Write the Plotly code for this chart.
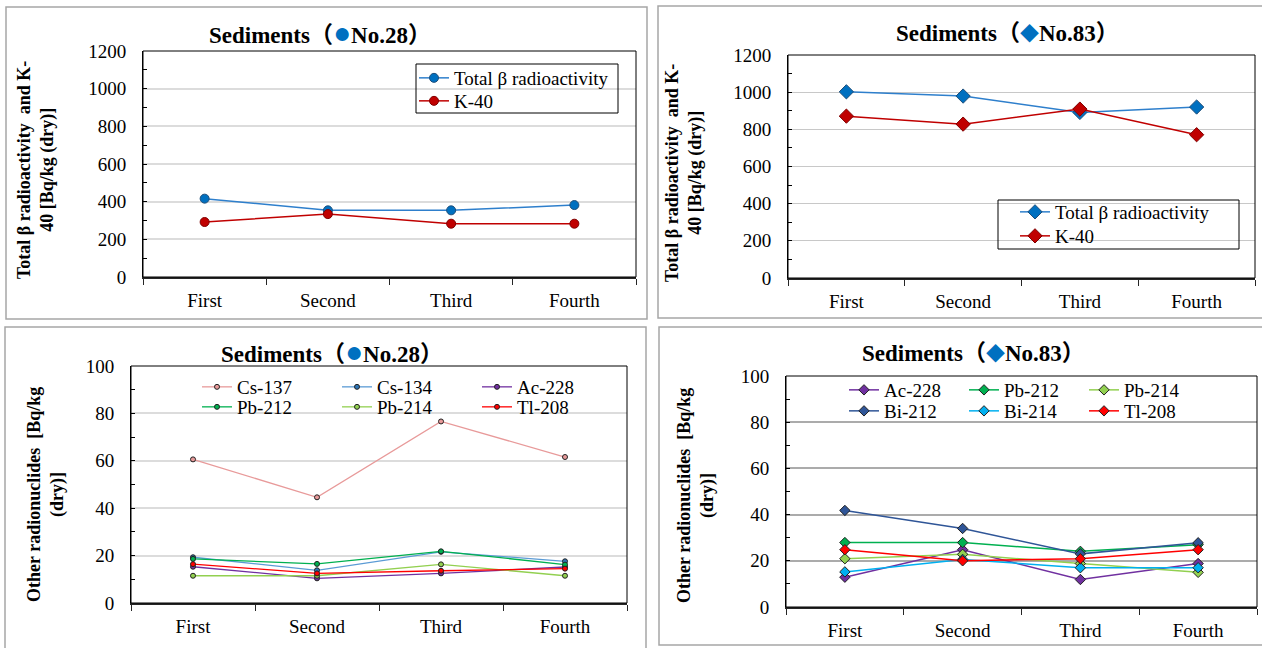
import plotly.graph_objects as go

W, H = 1262, 648

categories = ["First", "Second", "Third", "Fourth"]

# Top-left: No.28 (Bq/kg dry)
no28_total_beta = [416, 354, 354, 382]
no28_k40 = [292, 334, 283, 283]

# Top-right: No.83
no83_total_beta = [1002, 979, 891, 920]
no83_k40 = [871, 828, 909, 771]

# Bottom-left: No.28 other radionuclides
no28_names = ["Cs-137", "Cs-134", "Ac-228", "Pb-212", "Pb-214", "Tl-208"]
no28_cs137 = [60.6, 44.6, 76.6, 61.6]
no28_cs134 = [19.3, 13.8, 21.6, 17.6]
no28_ac228 = [15.3, 10.4, 12.5, 15.2]
no28_pb212 = [18.6, 16.5, 21.8, 16.2]
no28_pb214 = [11.5, 11.5, 16.3, 11.5]
no28_tl208 = [16.4, 12.5, 13.6, 14.5]

# Bottom-right: No.83 other radionuclides
no83_names = ["Ac-228", "Pb-212", "Pb-214", "Bi-212", "Bi-214", "Tl-208"]
no83_ac228 = [12.9, 24.8, 11.9, 18.8]
no83_pb212 = [27.9, 27.9, 24.1, 27.0]
no83_pb214 = [20.9, 22.8, 18.8, 15.0]
no83_bi212 = [41.8, 34.0, 23.0, 27.8]
no83_bi214 = [15.2, 20.6, 17.0, 17.0]
no83_tl208 = [24.8, 20.0, 20.9, 24.8]

SERIF = "Liberation Serif, Times New Roman, serif"
TITLE_FONT = "Liberation Serif, Noto Sans CJK JP, serif"

fig = go.Figure()

# ---------- top-left ----------
fig.add_trace(go.Scatter(x=categories, y=no28_total_beta, name="Total β radioactivity",
                         mode="lines+markers", xaxis="x", yaxis="y", legend="legend",
                         showlegend=True,
                         line=dict(color="#2E7FCC", width=1.5),
                         marker=dict(symbol="circle", size=9, color="#0070C0",
                                     line=dict(color="#1F4E79", width=1))))
fig.add_trace(go.Scatter(x=categories, y=no28_k40, name="K-40",
                         mode="lines+markers", xaxis="x", yaxis="y", legend="legend7",
                         line=dict(color="#C00000", width=1.5),
                         marker=dict(symbol="circle", size=9, color="#C00000",
                                     line=dict(color="#7F0000", width=1))))

# ---------- top-right ----------
fig.add_trace(go.Scatter(x=categories, y=no83_total_beta, name="Total β radioactivity",
                         mode="lines+markers", xaxis="x2", yaxis="y2", legend="legend2",
                         line=dict(color="#2E7FCC", width=1.5),
                         marker=dict(symbol="diamond", size=11, color="#0070C0",
                                     line=dict(color="#1F4E79", width=1))))
fig.add_trace(go.Scatter(x=categories, y=no83_k40, name="K-40",
                         mode="lines+markers", xaxis="x2", yaxis="y2", legend="legend8",
                         line=dict(color="#C00000", width=1.5),
                         marker=dict(symbol="diamond", size=11, color="#C00000",
                                     line=dict(color="#7F0000", width=1))))

# ---------- bottom-left ----------
bl_series = [no28_cs137, no28_cs134, no28_ac228, no28_pb212, no28_pb214, no28_tl208]
bl_colors = ["#E89A9A", "#5B9BD5", "#7030A0", "#00B050", "#92D050", "#FF0000"]
bl_fill = ["#E89A9A", "#2E75B6", "#7030A0", "#00B050", "#92D050", "#FF0000"]
for i, (nm, vals) in enumerate(zip(no28_names, bl_series)):
    fig.add_trace(go.Scatter(x=categories, y=vals, name=nm, mode="lines+markers",
                             xaxis="x3", yaxis="y3",
                             legend="legend3" if i < 3 else "legend4",
                             line=dict(color=bl_colors[i], width=1.3),
                             marker=dict(symbol="circle", size=5, color=bl_fill[i],
                                         line=dict(color="#222222", width=1))))

# ---------- bottom-right ----------
br_series = [no83_ac228, no83_pb212, no83_pb214, no83_bi212, no83_bi214, no83_tl208]
br_colors = ["#7030A0", "#00B050", "#92D050", "#2F5597", "#00B0F0", "#FF0000"]
for i, (nm, vals) in enumerate(zip(no83_names, br_series)):
    fig.add_trace(go.Scatter(x=categories, y=vals, name=nm, mode="lines+markers",
                             xaxis="x4", yaxis="y4",
                             legend="legend5" if i < 3 else "legend6",
                             line=dict(color=br_colors[i], width=1.5),
                             marker=dict(symbol="diamond", size=8, color=br_colors[i],
                                         line=dict(color="#222222", width=1))))


def px_x(p):
    return p / W


def px_y(p):
    return 1 - p / H


def xaxis_cfg(x0, x1, anchor):
    return dict(domain=[px_x(x0), px_x(x1)], anchor=anchor, type="category",
                range=[-0.5, 3.5], showgrid=False, zeroline=False,
                showline=True, linecolor="#262626", linewidth=2,
                ticks="outside", ticklen=6, tickcolor="#262626", tickwidth=1,
                tickson="boundaries", ticklabelstandoff=5,
                tickfont=dict(family=SERIF, size=19, color="#000000"),
                fixedrange=True)


def yaxis_cfg(y0, y1, anchor, rng, dtick, gridcolor, gridwidth):
    return dict(domain=[px_y(y1), px_y(y0)], anchor=anchor, range=rng,
                dtick=dtick, showgrid=True, gridcolor=gridcolor, gridwidth=gridwidth,
                zeroline=False, showline=True, linecolor="#000000", linewidth=1,
                ticks="inside", ticklen=4, tickcolor="#000000",
                minor=dict(dtick=dtick / 2, ticks="inside", ticklen=4,
                           tickcolor="#000000", showgrid=False),
                ticklabelstandoff=12,
                tickfont=dict(family=SERIF, size=19, color="#000000"),
                fixedrange=True)


layout = dict(
    width=W, height=H, autosize=False, showlegend=True,
    margin=dict(l=0, r=0, t=0, b=0, pad=0, autoexpand=False),
    paper_bgcolor="white", plot_bgcolor="white",
    xaxis=xaxis_cfg(143, 636, "y"),
    yaxis=yaxis_cfg(51, 277, "x", [0, 1200], 200, "#DCDCDC", 2),
    xaxis2=xaxis_cfg(788, 1255, "y2"),
    yaxis2=yaxis_cfg(55, 278, "x2", [0, 1200], 200, "#C8C8C8", 1.2),
    xaxis3=xaxis_cfg(131, 627, "y3"),
    yaxis3=yaxis_cfg(366, 603, "x3", [0, 100], 20, "#DCDCDC", 2),
    xaxis4=xaxis_cfg(786, 1257, "y4"),
    yaxis4=yaxis_cfg(376, 607, "x4", [0, 100], 20, "#ABABAB", 1.5),
)

leg_common = dict(bgcolor="rgba(0,0,0,0)", borderwidth=0, visible=True,
                  font=dict(family=SERIF, size=19, color="#000000"),
                  xanchor="left", yanchor="middle", tracegroupgap=0)

# one legend per row so that row positions can follow the reference
layout["legend"] = dict(leg_common, x=px_x(414), y=px_y(78), orientation="h")
layout["legend7"] = dict(leg_common, x=px_x(414), y=px_y(101), orientation="h")
layout["legend2"] = dict(leg_common, x=px_x(1015), y=px_y(212), orientation="h")
layout["legend8"] = dict(leg_common, x=px_x(1015), y=px_y(236), orientation="h")
layout["legend3"] = dict(leg_common, x=px_x(197), y=px_y(387), orientation="h",
                         entrywidth=95, entrywidthmode="pixels")
layout["legend4"] = dict(leg_common, x=px_x(197), y=px_y(407), orientation="h",
                         entrywidth=95, entrywidthmode="pixels")
layout["legend5"] = dict(leg_common, x=px_x(844), y=px_y(390), orientation="h",
                         entrywidth=75, entrywidthmode="pixels")
layout["legend6"] = dict(leg_common, x=px_x(844), y=px_y(411), orientation="h",
                         entrywidth=75, entrywidthmode="pixels")

fig.update_layout(**layout)

# panel borders
panels = [(6, 7, 647, 319), (658, 6, 1270, 318), (5, 327, 646, 660), (659, 327, 1270, 645)]
for (a, b, c, d) in panels:
    fig.add_shape(type="rect", xref="paper", yref="paper",
                  x0=px_x(a), x1=px_x(c), y0=px_y(d), y1=px_y(b),
                  line=dict(color="#A6A6A6", width=1.5), layer="below")

# plot-area boxes
for ax in ["", "2", "3", "4"]:
    fig.add_shape(type="rect", xref=f"x{ax} domain", yref=f"y{ax} domain",
                  x0=0, x1=1, y0=0, y1=1, line=dict(color="#000000", width=1))

# legend boxes (top charts)
for (a, b, c, d) in [(416, 64, 618, 113), (998, 200, 1239, 249)]:
    fig.add_shape(type="rect", xref="paper", yref="paper",
                  x0=px_x(a), x1=px_x(c), y0=px_y(d), y1=px_y(b),
                  line=dict(color="#000000", width=1), fillcolor="rgba(0,0,0,0)")

# titles
DOT = "<span style='color:#0070C0;font-size:30px'>●</span>"
DIA = "<span style='color:#0070C0;font-size:19px'>◆</span>"
titles = [
    (320, 32, "<b>Sediments</b><b>（</b>" + DOT + "<b>No.28）</b>"),
    (1007, 33, "<b>Sediments</b><b>（</b>" + DIA + "<b>No.83）</b>"),
    (332, 351, "<b>Sediments</b><b>（</b>" + DOT + "<b>No.28）</b>"),
    (973, 353, "<b>Sediments</b><b>（</b>" + DIA + "<b>No.83）</b>"),
]
for (cx, cy, txt) in titles:
    fig.add_annotation(x=px_x(cx), y=px_y(cy), xref="paper", yref="paper",
                       text=txt, showarrow=False, xanchor="center", yanchor="middle",
                       font=dict(family=TITLE_FONT, size=23, color="#000000"))

# y-axis titles
ytitles = [
    (36, 170, "<b>Total β radioactivity  and K-<br>40 [Bq/kg (dry)]</b>"),
    (684, 173, "<b>Total β radioactivity  and K-<br>40 [Bq/kg (dry)]</b>"),
    (46, 495, "<b>Other radionuclides  [Bq/kg<br>(dry)]</b>"),
    (696, 496, "<b>Other radionuclides  [Bq/kg<br>(dry)]</b>"),
]
for (cx, cy, txt) in ytitles:
    fig.add_annotation(x=px_x(cx), y=px_y(cy), xref="paper", yref="paper",
                       text=txt, showarrow=False, textangle=-90,
                       xanchor="center", yanchor="middle",
                       font=dict(family=SERIF, size=18, color="#000000"))

fig.write_html("out.html", config={"displayModeBar": False},
               post_script="document.body.style.margin='0';document.body.style.overflow='hidden';")
